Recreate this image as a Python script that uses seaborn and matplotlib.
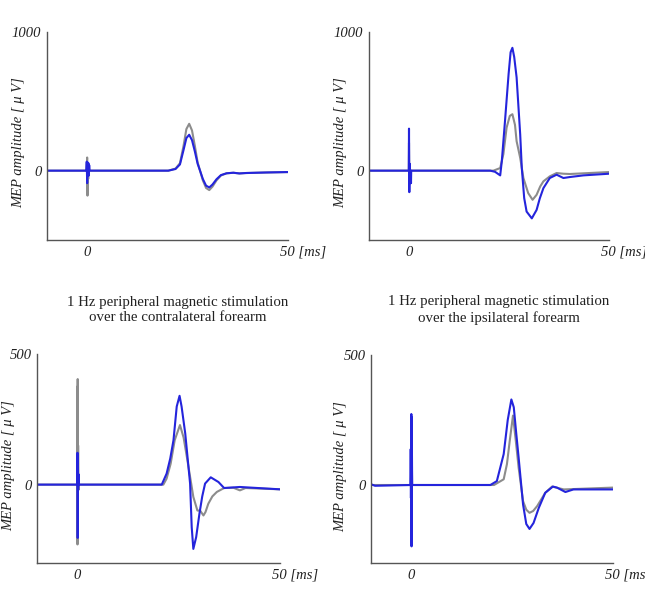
import numpy as np
import pandas as pd
import seaborn as sns
import matplotlib.pyplot as plt
import matplotlib.transforms as mtransforms

# averaged MEP traces, time in ms, amplitude in uV
# top left
tl_gray_t = [-10, -0.15, 0.0, 0.08, 0.16, 0.25, 0.4, 20.2, 22.0, 23.1, 24.0, 24.7, 25.4, 26.1, 26.8, 27.5, 28.1,
             28.8, 29.6, 30.4, 31.2, 32.2, 33.3, 34.7, 36.4, 37.9, 39.5, 44.7, 50]
tl_gray_v = [0, 0, 95, -180, 40, -60, 0, 0, 15, 54, 180, 300, 338, 290, 180, 60, 0,
             -70, -125, -140, -115, -70, -35, -19, -15, -20, -17, -13, -10]
tl_blue_t = [-10, -0.2, -0.1, 0.0, 0.1, 0.2, 0.3, 0.4, 0.5, 0.6, 20.2, 22.0, 23.1, 24.0, 24.7, 25.4, 26.1, 26.8,
             27.5, 28.1, 28.8, 29.6, 30.4, 31.2, 32.2, 33.3, 34.7, 36.4, 37.9, 39.5, 44.7, 50]
tl_blue_v = [0, 0, 65, -90, 60, -35, 55, -35, 40, 0, 0, 12, 45, 150, 235, 259, 220, 140,
             50, 0, -60, -108, -121, -100, -62, -32, -19, -15, -20, -17, -13, -10]

# top right
tr_gray_t = [-10, -0.05, 0.0, 0.08, 0.16, 0.25, 21.1, 22.8, 23.6, 24.4, 25.2, 25.85, 26.5, 26.9, 27.8, 28.6,
             29.8, 30.9, 31.9, 32.8, 33.6, 35.2, 36.9, 38.6, 40.2, 50]
tr_gray_v = [0, 0, 200, -100, 30, 0, 0, 19, 120, 310, 395, 407, 330, 213, 92, -53,
             -162, -210, -174, -114, -77, -41, -17, -22, -24, -10]
tr_blue_t = [-10, -0.05, 0.0, 0.08, 0.16, 0.25, 0.45, 0.5, 0.55, 20.3, 21.5, 22.8, 23.2, 24.0, 24.9, 25.4,
             25.85, 26.3, 26.9, 27.8, 28.2, 28.8, 29.4, 30.7, 31.9, 32.7, 33.6, 35.2, 36.9, 38.6, 40.2, 43.6, 50]
tr_blue_v = [0, 0, 303, -155, 50, 0, 0, -90, 0, 0, -8, -34, 68, 358, 697, 854,
             886, 820, 673, 261, 19, -198, -295, -344, -283, -200, -126, -53, -29, -53, -46, -34, -22]

# bottom left
bl_gray_t = [-10, -0.1, -0.05, 0.0, 0.05, 0.1, 0.15, 0.25, 0.35, 21.2, 22.0, 23.0, 24.0, 25.3, 26.2, 27.0,
             27.8, 28.6, 29.6, 30.3, 31.1, 31.6, 32.3, 33.3, 34.4, 36.2, 38.5, 40.1, 41.5, 50]
bl_gray_v = [0, 0, 375, -229, 404, -50, 150, -20, 0, 0, 23, 80, 170, 228, 180, 106,
             30, -47, -99, -100, -118, -105, -73, -45, -28, -13, -12, -22, -13, -18]
bl_blue_t = [-10, -0.1, 0.0, 0.05, 0.1, 0.15, 0.25, 0.35, 20.8, 22.0, 22.9, 23.7, 24.5, 25.2, 25.7, 26.6,
             27.4, 27.8, 28.2, 28.6, 29.3, 30.1, 30.8, 31.5, 32.9, 34.8, 36.2, 40.1, 50]
bl_blue_v = [0, 0, 122, -204, 100, -20, 40, 0, 0, 42, 100, 170, 299, 340, 299, 196,
             68, 4, -163, -246, -201, -112, -45, 4, 28, 10, -13, -9, -18]

# bottom right
br_gray_t = [-10, -0.1, 0.0, 0.05, 0.1, 0.2, 20.5, 22.9, 23.7, 24.4, 25.2, 25.9, 26.6, 27.7, 28.5, 29.3,
             30.2, 31.2, 33.2, 34.9, 37.8, 50]
br_gray_v = [0, 0, 150, -150, 120, 0, 0, 22, 80, 170, 267, 170, 67, -62, -95, -107,
             -100, -81, -30, -6, -17, -10]
br_blue_t = [-10, -9, -0.2, -0.15, -0.1, 0.0, 0.05, 0.1, 0.2, 19.6, 21.2, 22.9, 23.9, 24.8, 25.4, 26.0,
             26.6, 27.7, 28.5, 29.3, 30.3, 31.6, 33.2, 35.1, 36.1, 38.2, 40.2, 50]
br_blue_v = [3, -3, 0, 138, -50, 273, -236, 260, 0, 0, 15, 119, 250, 329, 299, 200,
             106, -75, -150, -169, -146, -88, -30, -6, -10, -27, -17, -17]

titles = ['1 Hz peripheral magnetic stimulation\nover the contralateral forearm',
          '1 Hz peripheral magnetic stimulation\nover the ipsilateral forearm']

sns.set_style('white')
plt.rcParams['font.family'] = ['Liberation Serif', 'DejaVu Serif']

pal = {'gray': '#8c8c8c', 'blue': '#2424dc'}

fig = plt.figure(figsize=(6.45, 6.1), dpi=100)

panels = [
    ([47/645, 370/610, 241/645, 208/610], tl_gray_t, tl_gray_v, tl_blue_t, tl_blue_v, (-500, 1000), 250, (-22, 0.47)),
    ([369/645, 370/610, 240/645, 208/610], tr_gray_t, tr_gray_v, tr_blue_t, tr_blue_v, (-500, 1000), 250, (-22, 0.47)),
    ([37/645, 47/610, 243/645, 209/610], bl_gray_t, bl_gray_v, bl_blue_t, bl_blue_v, (-300, 500), 100, (-22, 0.464)),
    ([371/645, 47/610, 242/645, 208/610], br_gray_t, br_gray_v, br_blue_t, br_blue_v, (-300, 500), 100, (-24, 0.464)),
]

for rect, gt, gv, bt, bv, ylim, ystep, lab in panels:
    ax = fig.add_axes(rect)
    df = pd.concat([
        pd.DataFrame({'t': gt, 'amp': gv, 'trace': 'gray'}),
        pd.DataFrame({'t': bt, 'amp': bv, 'trace': 'blue'}),
    ])
    sns.lineplot(data=df, x='t', y='amp', hue='trace', palette=pal, sort=False,
                 estimator=None, legend=False, linewidth=1.5, ax=ax)
    ax.set_xlim(-10, 50)
    ax.set_ylim(*ylim)
    sns.despine(ax=ax)
    for s in ['left', 'bottom']:
        ax.spines[s].set_color('#555555')
        ax.spines[s].set_linewidth(1.0)

    xt = np.arange(-10, 51, 10)
    ax.set_xticks(xt)
    ax.set_xticklabels(['' if v not in (0, 50) else ('0' if v == 0 else '50 [ms]') for v in xt],
                       fontsize=10.5, style='italic')
    yt = np.arange(ylim[0], ylim[1] + 1, ystep)
    ax.set_yticks(yt)
    ax.set_yticklabels([str(v) if v in (0, ylim[1]) else '' for v in yt], fontsize=10.5, style='italic')
    ax.tick_params(direction='in', length=3, width=0.8, color='#555555', labelcolor='#222222')
    ax.tick_params(axis='x', pad=4)
    ax.tick_params(axis='y', pad=4)

    # "50 [ms]" starts just left of its tick
    last = ax.get_xticklabels()[-1]
    last.set_horizontalalignment('left')
    last.set_transform(last.get_transform() + mtransforms.ScaledTranslation(-8/100, 0, fig.dpi_scale_trans))

    ax.set_xlabel('')
    ax.set_ylabel('MEP amplitude [ μ V]', fontsize=10.5, style='italic', color='#222222')
    w = rect[2] * 645
    ax.yaxis.set_label_coords(lab[0] / w, lab[1])

fig.text(178/645, 1 - 310/610, titles[0], ha='center', va='center', fontsize=10.7,
         linespacing=1.25, color='#222222')
fig.text(499/645, 1 - 310/610, titles[1], ha='center', va='center', fontsize=10.7,
         linespacing=1.25, color='#222222')

fig.savefig('out.png', dpi=100)
